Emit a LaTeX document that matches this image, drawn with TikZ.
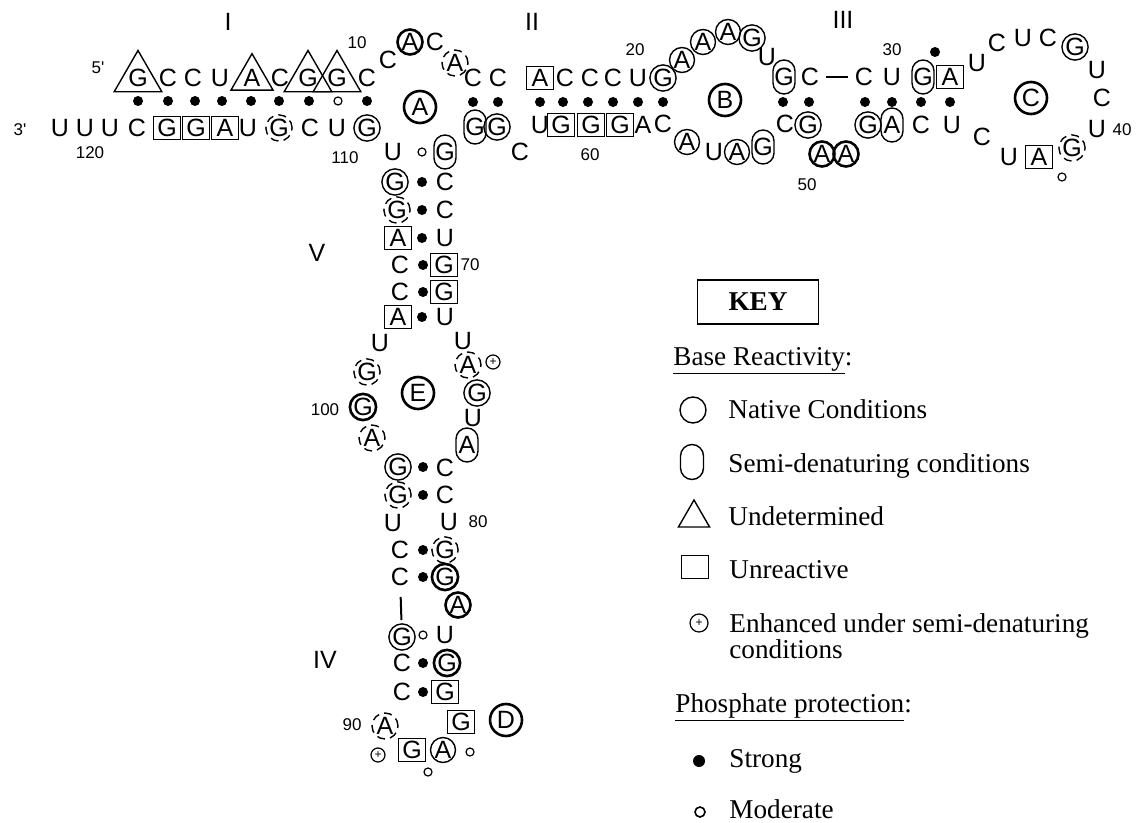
\documentclass[tikz,border=0pt]{standalone}
\usepackage{fontspec}
\setmainfont{Liberation Serif}
\newfontfamily\basefont{Liberation Sans}
\usetikzlibrary{shapes.geometric,calc}
\tikzset{
 nt/.style={inner sep=0pt,font=\basefont\fontsize{12.5}{12.5}\selectfont},
 pl/.style={},
 nat/.style={circle,draw,line width=0.7pt,minimum size=12.5pt},
 natb/.style={circle,draw,line width=1.3pt,minimum size=12.5pt},
 dsh/.style={circle,draw,line width=0.7pt,minimum size=13pt,dash pattern=on 4pt off 2.6pt},
 semi/.style={rectangle,draw,line width=0.7pt,minimum width=11pt,minimum height=17pt,rounded corners=5.5pt},
 unr/.style={rectangle,draw,line width=0.7pt,minimum width=13.5pt,minimum height=11.5pt},
 und/.style={regular polygon,regular polygon sides=3,draw,line width=0.7pt,minimum size=17pt},
 loopl/.style={circle,draw,line width=1.3pt,minimum size=16pt,inner sep=0pt,font=\basefont\fontsize{12.5}{12.5}\selectfont},
 sdot/.style={circle,fill,inner sep=0pt,minimum size=5pt},
 mdot/.style={circle,draw,line width=0.6pt,inner sep=0pt,minimum size=4pt},
 enh/.style={circle,draw,line width=0.6pt,inner sep=0pt,minimum size=7pt,font=\basefont\fontsize{6}{6}\selectfont},
 num/.style={inner sep=0pt,font=\basefont\fontsize{8.5}{8.5}\selectfont},
 hlab/.style={inner sep=0pt,font=\basefont\fontsize{12.5}{12.5}\selectfont},
 keytext/.style={anchor=base west,inner sep=0pt,font=\fontsize{13.6}{13.6}\selectfont},
}

\begin{document}
\begin{tikzpicture}[x=0.5pt,y=-0.5pt]
\useasboundingbox (0,0) rectangle (1139,823);

% bases 5' -> 3'
\foreach \n/\x/\y/\b/\s in {
 1/138/78/G/und, 2/168/78/C/pl, 3/193/78/C/pl, 4/220/78/U/pl, 5/252/78/A/und, 6/280/78/C/pl, 7/308/78/G/und, 8/337/78/G/und, 9/367/78/C/pl,
 10/388/60/C/pl, 11/410/42/A/natb, 12/435/42/C/pl, 13/455/63/A/dsh, 14/473/78/C/pl, 15/498/78/C/pl, 16/540/78/A/unr, 17/565/78/C/pl, 18/590/78/C/pl, 19/613/78/C/pl, 20/638/78/U/pl,
 21/663/78/G/nat, 22/682/60/A/nat, 23/703/42/A/nat, 24/728/32/A/nat, 25/752/38/G/nat, 26/767/57/U/pl, 27/784/77/G/semi, 28/810/77/C/pl, 29/864/77/C/pl, 30/892/77/U/pl,
 31/923/77/G/semi, 32/950/77/A/unr, 33/977/63/U/pl, 34/997/43/C/pl, 35/1023/38/U/pl, 36/1048/38/C/pl, 37/1075/47/G/nat, 38/1097/70/U/pl, 39/1102/98/C/pl, 40/1097/129/U/pl,
 41/1072/148/G/dsh, 42/1039/157/A/unr, 43/1009/157/U/pl, 44/982/137/C/pl, 45/952/125/U/pl, 46/921/125/C/pl, 47/892/125/A/semi, 48/868/125/G/nat, 49/846/154/A/natb, 50/822/154/A/natb,
 51/808/125/G/nat, 52/785/124/C/pl, 53/763/147/G/semi, 54/737/152/A/nat, 55/714/152/U/pl, 56/687/142/A/nat, 57/663/124/C/pl, 58/643/125/A/pl, 59/620/125/G/unr, 60/591/125/G/unr,
 61/561/125/G/unr, 62/540/125/U/pl, 63/520/152/C/pl, 64/497/127/G/nat, 65/475/127/G/semi, 66/445/152/G/semi, 67/445/182/C/pl, 68/445/210/C/pl, 69/445/238/U/pl, 70/444/265/G/unr,
 71/444/292/G/unr, 72/445/317/U/pl, 73/463/341/U/pl, 74/468/365/A/dsh, 75/477/393/G/nat, 76/473/418/U/pl, 77/467/445/A/semi, 78/445/468/C/pl, 79/445/495/C/pl, 80/449/522/U/pl,
 81/445/550/G/dsh, 82/445/577/G/natb, 83/458/605/A/natb, 84/445/635/U/pl, 85/447/663/G/natb, 86/445/692/G/unr, 87/461/722/G/unr, 88/443/750/A/nat, 89/412/750/G/unr, 90/385/726/A/dsh,
 91/402/692/C/pl, 92/402/663/C/pl, 93/402/637/G/nat, 94/400/577/C/pl, 95/400/550/C/pl, 96/393/523/U/pl, 97/398/495/G/dsh, 98/398/467/G/nat, 99/372/438/A/dsh, 100/363/407/G/natb,
 101/367/372/G/dsh, 102/380/343/U/pl, 103/398/317/A/unr, 104/400/292/C/pl, 105/400/265/C/pl, 106/398/238/A/unr, 107/397/210/G/dsh, 108/395/182/G/nat, 109/393/152/U/pl, 110/367/128/G/nat,
 111/337/128/U/pl, 112/310/128/C/pl, 113/279/128/G/dsh, 114/248/128/U/pl, 115/225/128/A/unr, 116/196/128/G/unr, 117/167/128/G/unr, 118/137/128/C/pl, 119/110/128/U/pl, 120/85/128/U/pl, 121/60/128/U/pl}
 \node[nt,\s] (b\n) at (\x,\y) {\b};

% backbone links
\draw[line width=1pt,shorten <=3.5pt,shorten >=3.5pt] (b28) -- (b29);
\draw[line width=1pt,shorten <=10pt,shorten >=8.5pt] (b94.center) -- (b93.center);

% phosphate protection
\foreach \x/\y [count=\i] in {138/101,168/101,195/101,222/101,251/101,279/101,309/101,367/101,
 473/102,498/102,540/102,563/102,588/102,613/102,638/102,663/102,
 783/102,809/102,865/102,892/102,921/102,950/102,935/52,
 422/182,422/210,422/238,423/265,423/292,422/317,
 423/467,423/495,423/550,423/577,423/663,423/692}
 \node[sdot] (s\i) at (\x,\y) {};
\foreach \x/\y [count=\i] in {338/101,422/152,423/635,1062/177,470/752,428/772}
 \node[mdot] (m\i) at (\x,\y) {};
\node[enh] (e1) at (493,362) {+};
\node[enh] (e2) at (378,755) {+};

% loops
\node[loopl] (lA) at (420,107) {A};
\node[loopl] (lB) at (725,100) {B};
\node[loopl] (lC) at (1031,98) {C};
\node[loopl] (lD) at (506,720) {D};
\node[loopl] (lE) at (418,393) {E};

% helices and ends
\node[hlab] (hI) at (228,22) {I};
\node[hlab] (hII) at (532,22) {II};
\node[hlab] (hIII) at (843,20) {III};
\node[hlab] (hIV) at (325,660) {IV};
\node[hlab] (hV) at (317,253) {V};
\node[num] (e5) at (98,68) {5'};
\node[num] (e3) at (20,130) {3'};

% numbering
\foreach \t/\x/\y in {10/357/43,20/635/50,30/892/50,40/1122/130,50/807/185,60/590/155,70/470/265,80/478/522,90/352/725,100/325/410,110/345/158,120/90/153}
 \node[num] (n\t) at (\x,\y) {\t};

% key
\node[draw,line width=0.8pt,minimum width=60.5pt,minimum height=22pt,inner sep=0pt,font=\bfseries\fontsize{13.6}{13.6}\selectfont] (keybox) at (758,302) {KEY};
\node[keytext] (kbr) at (673,365) {\underline{Base Reactivity}:};
\node[circle,draw,line width=0.7pt,minimum size=13pt,inner sep=0pt] (knats) at (693,410) {};
\node[keytext] (knat) at (728,418) {Native Conditions};
\node[rectangle,draw,line width=0.7pt,minimum width=11.5pt,minimum height=17.5pt,rounded corners=5.75pt] (ksemis) at (692,462) {};
\node[keytext] (ksemi) at (728,472) {Semi-denaturing conditions};
\node[regular polygon,regular polygon sides=3,draw,line width=0.7pt,minimum size=18pt,inner sep=0pt] (kunds) at (694,518) {};
\node[keytext] (kund) at (728,525) {Undetermined};
\node[rectangle,draw,line width=0.7pt,minimum width=13.5pt,minimum height=11.5pt,inner sep=0pt] (kunrs) at (695,567) {};
\node[keytext] (kunr) at (729,578) {Unreactive};
\node[enh,minimum size=9pt] (kenhs) at (699,623) {+};
\node[keytext] (kenh) at (729,632) {Enhanced under semi-denaturing};
\node[keytext] (kenh2) at (729,658) {conditions};
\node[keytext] (kpp) at (675,712) {\underline{Phosphate protection}:};
\node[sdot,minimum size=6pt] (kstrs) at (699,761) {};
\node[keytext] (kstr) at (729,767) {Strong};
\node[mdot,minimum size=5pt,line width=0.8pt] (kmods) at (700,812) {};
\node[keytext] (kmod) at (729,818) {Moderate};

\end{tikzpicture}
\end{document}
